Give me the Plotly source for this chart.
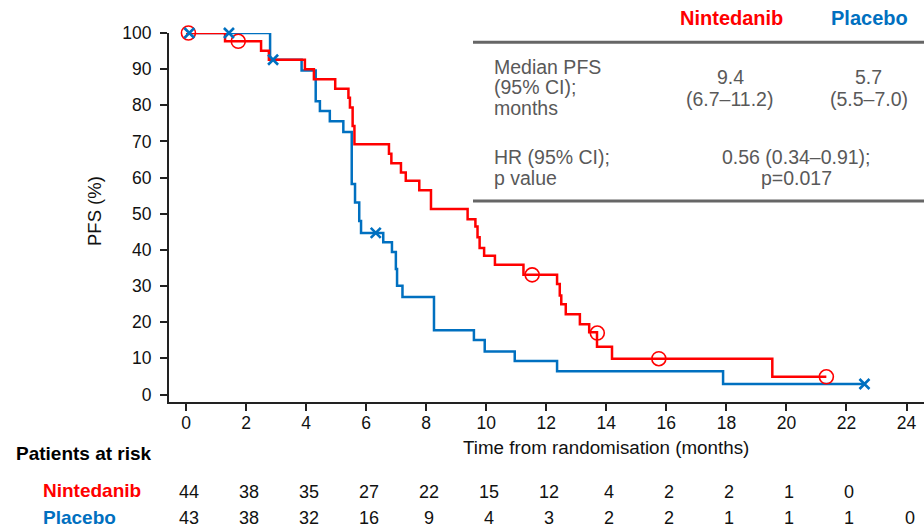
import plotly.graph_objects as go

# ---------------- data ----------------
x_ticks = [0, 2, 4, 6, 8, 10, 12, 14, 16, 18, 20, 22, 24]
y_ticks = [0, 10, 20, 30, 40, 50, 60, 70, 80, 90, 100]

nint_t = [0, 1.30, 2.50, 2.76, 3.96, 4.26, 4.97, 5.41, 5.46, 5.55, 5.61, 6.76, 6.84, 7.16,
          7.32, 7.77, 8.16, 9.38, 9.64, 9.71, 9.78, 9.93, 10.29, 11.24, 12.36, 12.45,
          12.50, 12.65, 13.12, 13.43, 13.69, 14.19, 19.53, 21.33]
nint_s = [100, 97.7, 95.1, 92.6, 90.0, 87.2, 84.6, 82.1, 79.4, 74.3, 69.2, 66.6, 64.0, 61.4,
          59.1, 56.5, 51.3, 48.5, 46.5, 43.5, 40.5, 38.4, 35.9, 33.1, 30.6, 27.4,
          25.0, 22.2, 19.4, 17.2, 13.2, 9.9, 4.9, 4.9]
nint_cens_t = [0.08, 1.74, 11.53, 13.70, 15.75, 21.33]
nint_cens_s = [100, 97.7, 33.1, 17.0, 9.9, 4.9]

plac_t = [0, 2.80, 3.85, 4.32, 4.46, 4.79, 5.24, 5.52, 5.63, 5.77, 5.83, 6.57, 6.86, 6.99,
          7.03, 7.21, 8.26, 9.59, 9.95, 10.95, 12.36, 17.89, 22.60]
plac_s = [100, 92.6, 89.6, 81.1, 78.4, 75.6, 72.6, 58.2, 53.1, 48.0, 44.7, 42.1, 39.4, 34.7,
          30.1, 27.0, 17.8, 15.1, 11.9, 9.3, 6.4, 2.9, 2.9]
plac_cens_t = [0.11, 1.43, 2.90, 6.32, 22.60]
plac_cens_s = [100, 100, 92.6, 44.7, 2.9]

risk_times = [0, 2, 4, 6, 8, 10, 12, 14, 16, 18, 20, 22, 24]
nint_risk = [44, 38, 35, 27, 22, 15, 12, 4, 2, 2, 1, 0]
plac_risk = [43, 38, 32, 16, 9, 4, 3, 2, 2, 1, 1, 1, 0]

arm_names = ["Nintedanib", "Placebo"]
median_pfs = ["9.4", "5.7"]
median_ci = ["(6.7\u201311.2)", "(5.5\u20137.0)"]
hr_text = ["0.56 (0.34\u20130.91);", "p=0.017"]

# ---------------- style ----------------
RED = "#FF0000"
BLUE = "#0070C0"
GRAY = "#595959"
FONT = "Liberation Sans, Arial, sans-serif"
W, H = 924, 527
ML, MR, MT, MB = 169, 0, 33, 125
PW, PH = W - ML - MR, H - MT - MB


def px(p):
    return (p - ML) / PW


def py(p):
    return (H - MB - p) / PH


fig = go.Figure()

fig.add_trace(go.Scatter(x=plac_t, y=plac_s, mode="lines", line=dict(color=BLUE, width=2.5, shape="hv"),
                         showlegend=False, hoverinfo="skip", cliponaxis=False))
fig.add_trace(go.Scatter(x=nint_t, y=nint_s, mode="lines", line=dict(color=RED, width=2.5, shape="hv"),
                         showlegend=False, hoverinfo="skip", cliponaxis=False))
fig.add_trace(go.Scatter(x=nint_cens_t, y=nint_cens_s, mode="markers",
                         marker=dict(symbol="circle-open", size=14, color=RED, line=dict(width=1.6, color=RED)),
                         showlegend=False, cliponaxis=False))
fig.add_trace(go.Scatter(x=plac_cens_t, y=plac_cens_s, mode="markers",
                         marker=dict(symbol="x-thin-open", size=10, color=BLUE, line=dict(width=2.6, color=BLUE)),
                         showlegend=False, cliponaxis=False))

x0 = -0.567
x1 = x0 + PW / 30.02
y0 = 100 - PH / 3.615

fig.update_xaxes(range=[x0, x1], tickvals=x_ticks, ticks="outside", ticklen=7, tickwidth=2,
                 tickcolor="#222", showline=True, linecolor="#222", linewidth=2, showgrid=False,
                 zeroline=False, tickfont=dict(family=FONT, size=17.5, color="#111"),
                 ticklabelstandoff=-3, automargin=False)
fig.update_yaxes(range=[y0, 100], tickvals=y_ticks, ticks="outside", ticklen=7, tickwidth=2,
                 tickcolor="#222", showline=True, linecolor="#222", linewidth=2, showgrid=False,
                 zeroline=False, tickfont=dict(family=FONT, size=17.5, color="#111"),
                 ticklabelstandoff=5, automargin=False)


def txt(x, y, text, size, color, xanchor="center", xref="paper", **kw):
    return dict(x=x, y=y, xref=xref, yref="paper", text=text, xanchor=xanchor, yanchor="middle",
                showarrow=False, font=dict(family=FONT, size=size, color=color), **kw)


ann = []
# axis titles
ann.append(txt(px(95), py(211), "PFS (%)", 18.5, "#111", textangle=-90))
ann.append(txt(px(606), py(447), "Time from randomisation (months)", 18.8, "#111"))

# table headers
ann.append(txt(px(731), py(18), "<b>%s</b>" % arm_names[0], 20, RED))
ann.append(txt(px(869), py(18), "<b>%s</b>" % arm_names[1], 20, BLUE))
left_lines = [("Median PFS", 66.7), ("(95% CI);", 87.5), ("months", 108.3),
              ("HR (95% CI);", 156.7), ("p value", 178)]
for t, yy in left_lines:
    ann.append(txt(px(492), py(yy), t, 19.5, GRAY, xanchor="left"))
ann.append(txt(px(730), py(76.7), median_pfs[0], 19.5, GRAY))
ann.append(txt(px(729), py(99), median_ci[0], 19.5, GRAY))
ann.append(txt(px(868), py(76.7), median_pfs[1], 19.5, GRAY))
ann.append(txt(px(869), py(99), median_ci[1], 19.5, GRAY))
ann.append(txt(px(796), py(156.7), hr_text[0], 19.5, GRAY))
ann.append(txt(px(796), py(178), hr_text[1], 19.5, GRAY))

# risk table
ann.append(txt(px(14), py(454), "<b>Patients at risk</b>", 19, "#000", xanchor="left"))
ann.append(txt(px(41), py(490.5), "<b>%s</b>" % arm_names[0], 19, RED, xanchor="left"))
ann.append(txt(px(41), py(517), "<b>%s</b>" % arm_names[1], 19, BLUE, xanchor="left"))
for t, n in zip(risk_times, nint_risk):
    ann.append(txt(t, py(491.5), str(n), 18, "#111", xref="x", xshift=3))
for t, n in zip(risk_times, plac_risk):
    ann.append(txt(t, py(518), str(n), 18, "#111", xref="x", xshift=3))

shapes = [
    dict(type="line", xref="paper", yref="paper", x0=px(473), x1=px(924), y0=py(42.3), y1=py(42.3),
         line=dict(color="#666", width=3)),
    dict(type="line", xref="paper", yref="paper", x0=px(473), x1=px(924), y0=py(201), y1=py(201),
         line=dict(color="#666", width=3)),
]

fig.update_layout(width=W, height=H, margin=dict(l=ML, r=MR, t=MT, b=MB, pad=0, autoexpand=False),
                  paper_bgcolor="white", plot_bgcolor="white", annotations=ann, shapes=shapes,
                  showlegend=False)

fig.write_html("out.html", config={"displayModeBar": False},
               post_script="document.body.style.margin='0px';")
